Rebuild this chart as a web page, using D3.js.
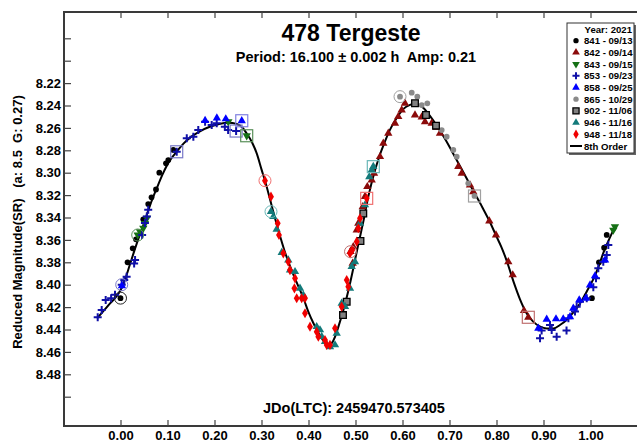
<!DOCTYPE html>
<html><head><meta charset="utf-8">
<script src="https://cdn.jsdelivr.net/npm/d3@7"></script>
<style>
body{margin:0;background:#fff}
svg{display:block}
text{font-family:"Liberation Sans",Arial,sans-serif;font-weight:bold;fill:#000;white-space:pre}
</style>
</head><body>
<svg id="c" width="637" height="442"></svg>
<script>
// ---------- data ----------
const titleText = "478 Tergeste";
const subtitleText = "Period: 16.100 \u00b1 0.002 h  Amp: 0.21";
const xTitle = "JDo(LTC): 2459470.573405";
const yTitle = "Reduced Magnitude(SR)   (a: 8.5  G: 0.27)";
const xTicks = [0.0,0.1,0.2,0.3,0.4,0.5,0.6,0.7,0.8,0.9,1.0];
const yTicks = [8.18,8.20,8.22,8.24,8.26,8.28,8.30,8.32,8.34,8.36,8.38,8.40,8.42,8.44,8.46,8.48,8.50];
const yLabelled = [8.22,8.24,8.26,8.28,8.30,8.32,8.34,8.36,8.38,8.40,8.42,8.44,8.46,8.48];
const legendYear = "Year: 2021";
const legendLabels = ["841 - 09/13","842 - 09/14","843 - 09/15","853 - 09/23","858 - 09/25","865 - 10/29","902 - 11/06","946 - 11/16","948 - 11/18"];
const fitLabel = "8th Order";

// phase, reduced magnitude
const s841 = [[0.000,8.412],[0.015,8.380],[0.026,8.3675],[0.033,8.3595],[0.0485,8.3416],[0.059,8.328],[0.066,8.322],[0.0755,8.315],[0.0826,8.300],[0.0968,8.2916],[0.1017,8.2887],[0.1123,8.2797],[1.003,8.412],[1.018,8.380],[1.029,8.367],[1.0345,8.3556]];
const s842 = [[0.4894,8.3705],[0.494,8.3809],[0.4953,8.3661],[0.5026,8.3512],[0.506,8.3452],[0.5153,8.3304],[0.5202,8.3214],[0.5251,8.3125],[0.5345,8.3065],[0.5394,8.3005],[0.5521,8.2857],[0.5591,8.2738],[0.5698,8.2648],[0.584,8.2559],[0.591,8.250],[0.5983,8.244],[0.6053,8.238],[0.6266,8.2485],[0.6409,8.2503],[0.6479,8.2545],[0.6621,8.2559],[0.6728,8.2596],[0.6798,8.2648],[0.7187,8.2946],[0.726,8.3005],[0.7436,8.311],[0.7506,8.317],[0.7847,8.3431],[0.7989,8.3556],[0.8251,8.3795],[0.8345,8.3913],[0.8585,8.4232],[0.8677,8.4291]];
const s843 = [[0.0366,8.3556],[0.0415,8.3527],[0.0485,8.3496],[0.052,8.3452],[0.0564,8.3405],[0.2294,8.2545],[0.2685,8.267],[1.0485,8.3512],[1.052,8.3482]];
const s853 = [[-0.0485,8.429],[-0.040,8.4226],[-0.0315,8.4137],[-0.020,8.412],[-0.0117,8.409],[0.0026,8.400],[0.008,8.3958],[0.013,8.393],[0.029,8.381],[0.031,8.378],[0.046,8.3556],[0.052,8.345],[0.056,8.339],[0.059,8.333],
  [0.1196,8.2813],[0.141,8.2693],[0.155,8.2679],[0.1655,8.2619],[0.180,8.2545],[0.194,8.2574],[0.2047,8.2559],[0.222,8.2589],[0.229,8.2619],[0.246,8.2628],
  [0.8926,8.4479],[0.896,8.441],[0.9138,8.436],[0.9174,8.4405],[0.928,8.4464],[0.949,8.441],[0.953,8.430],[0.967,8.424],[0.9706,8.4196],[0.9777,8.4152],[0.992,8.4121],[1.006,8.4023],[1.0117,8.3943],[1.0166,8.3854],[1.0272,8.3795],[1.0345,8.3735],[1.0379,8.3646]];
const s858 = [[0.003,8.401],[0.180,8.2535],[0.205,8.2512],[0.224,8.252],[0.258,8.2536],[0.889,8.4389],[0.9068,8.4309],[0.9266,8.4306],[0.942,8.4306],[0.9564,8.4286],[0.9634,8.4211],[0.976,8.4137],[0.990,8.4121],[0.999,8.4003],[1.0096,8.3922],[1.031,8.378]];
const s865 = [[0.5947,8.2321],[0.6196,8.2286],[0.6315,8.2321],[0.6409,8.2396],[0.6528,8.238],[0.6834,8.2619],[0.694,8.2679],[0.7081,8.2797],[0.7153,8.2857],[0.740,8.3095],[0.7532,8.3208]];
const s902 = [[0.4734,8.4271],[0.4813,8.4152],[0.5106,8.361],[0.5166,8.3364],[0.6266,8.238],[0.650,8.2485],[0.6713,8.258]];
const s946 = [[0.3202,8.3348],[0.3251,8.3393],[0.3323,8.3505],[0.343,8.3714],[0.357,8.378],[0.3606,8.3869],[0.3713,8.3884],[0.3819,8.4032],[0.3889,8.4092],[0.4174,8.4375],[0.4245,8.4404],[0.4281,8.4464],[0.4351,8.4509],[0.4457,8.4554],[0.4564,8.4538],[0.460,8.4434],[0.4706,8.4166],[0.4777,8.4196],[0.4883,8.4032],[0.4919,8.3839],[0.4989,8.3795],[0.5096,8.3452],[0.5202,8.3288],[0.5294,8.3036],[0.5345,8.2976],[0.5379,8.2946]];
const s948 = [[0.3074,8.3071],[0.3202,8.3214],[0.3345,8.3452],[0.3372,8.3556],[0.3464,8.372],[0.357,8.3795],[0.3606,8.3869],[0.3713,8.3943],[0.370,8.4032],[0.3749,8.4121],[0.3855,8.4121],[0.3926,8.4121],[0.3926,8.4255],[0.4032,8.4375],[0.4174,8.442],[0.4209,8.4464],[0.4351,8.4494],[0.4387,8.4538],[0.4457,8.4538],[0.4564,8.4389],[0.4706,8.4196],[0.4813,8.3958],[0.4847,8.4018],[0.4883,8.372],[0.4932,8.369],[0.5026,8.3616],[0.506,8.3496],[0.5096,8.3407],[0.5238,8.3229]];

// session start (circled) and end (boxed) markers: [series, phase, mag]
const circled = [["841",0.000,8.412],["853",0.0026,8.400],["843",0.0366,8.3556],["948",0.3074,8.3071],["946",0.3202,8.3348],["842",0.4894,8.3705],["865",0.5947,8.2321]];
const boxed = [["853",0.1196,8.2813],["853",0.246,8.2628],["858",0.258,8.2536],["843",0.2685,8.267],["948",0.5238,8.3229],["946",0.5379,8.2946],["865",0.7532,8.3208],["842",0.8677,8.4291]];

// 8th order Fourier fit
const fitPhase = [-0.05,-0.025,0.0,0.01,0.02,0.034,0.0485,0.063,0.077,0.09,0.105,0.12,0.134,0.15,0.169,0.19,0.21,0.23,0.247,0.26,0.2685,0.28,0.29,0.30,0.31,0.322,0.335,0.35,0.365,0.378,0.39,0.40,0.41,0.421,0.43,0.439,0.445,0.45,0.457,0.464,0.474,0.485,0.495,0.506,0.517,0.528,0.54,0.552,0.56,0.573,0.588,0.602,0.616,0.625,0.635,0.644,0.658,0.673,0.69,0.708,0.73,0.751,0.77,0.786,0.80,0.81,0.822,0.836,0.85,0.864,0.878,0.893,0.907,0.921,0.935,0.949,0.963,0.978,0.992,1.006,1.017,1.027,1.038,1.049];
const fitMag   = [8.430,8.418,8.405,8.395,8.382,8.364,8.347,8.329,8.314,8.301,8.289,8.281,8.274,8.268,8.263,8.259,8.2565,8.2555,8.2565,8.260,8.265,8.273,8.283,8.297,8.311,8.330,8.350,8.371,8.388,8.401,8.413,8.4245,8.434,8.443,8.449,8.453,8.4535,8.452,8.446,8.437,8.423,8.405,8.386,8.364,8.343,8.320,8.300,8.284,8.275,8.262,8.251,8.243,8.2395,8.2385,8.2395,8.242,8.249,8.258,8.2695,8.283,8.300,8.3165,8.331,8.344,8.357,8.366,8.379,8.397,8.413,8.4255,8.433,8.4375,8.439,8.439,8.436,8.4315,8.425,8.4166,8.406,8.395,8.384,8.372,8.361,8.351];

// ---------- drawing ----------
const svg = d3.select("#c");
const frame = {l:64, t:12, r:640, b:426};
const x = d3.scaleLinear().domain([0,1]).range([120.5,590.5]);
const y = d3.scaleLinear().domain([8.22,8.48]).range([83.1,374.3]);

const plus = {draw(ctx,size){const r=Math.sqrt(size)/2;ctx.moveTo(-r,0);ctx.lineTo(r,0);ctx.moveTo(0,-r);ctx.lineTo(0,r);}};

const styles = {
  "841":{data:s841,type:d3.symbolCircle,size:26,fill:"#000",stroke:"none",hl:"#222"},
  "842":{data:s842,type:d3.symbolTriangle,size:30,fill:"#8b0a0a",stroke:"none",hl:"#c07070"},
  "843":{data:s843,type:d3.symbolTriangle,size:30,fill:"#157015",stroke:"none",rot:180,hl:"#5a905a"},
  "853":{data:s853,type:plus,size:64,fill:"none",stroke:"#1010a8",sw:2,hl:"#7878c8"},
  "858":{data:s858,type:d3.symbolTriangle,size:30,fill:"#0000ff",stroke:"none",hl:"#8080e0"},
  "865":{data:s865,type:d3.symbolCircle,size:26,fill:"#8a8a8a",stroke:"none",hl:"#a0a0a0"},
  "902":{data:s902,type:d3.symbolSquare,size:44,fill:"#808080",stroke:"#000",sw:1.3,hl:"#555"},
  "946":{data:s946,type:d3.symbolTriangle,size:30,fill:"#137a7a",stroke:"none",hl:"#6ab8b8"},
  "948":{data:s948,type:d3.symbolDiamond,size:30,fill:"#f00000",stroke:"none",hl:"#f07070"}
};
const order = ["841","842","843","853","858","865","902","946","948"];

// frame
svg.append("rect").attr("x",frame.l).attr("y",frame.t).attr("width",frame.r-frame.l).attr("height",frame.b-frame.t)
  .attr("fill","#fff").attr("stroke","#3a3a3a").attr("stroke-width",2);

// axes
const ax = svg.append("g").attr("transform",`translate(0,${frame.b})`)
  .call(d3.axisBottom(x).tickValues(xTicks).tickSizeInner(-6).tickSizeOuter(0).tickPadding(3).tickFormat(d3.format(".2f")));
const axTop = svg.append("g").attr("transform",`translate(0,${frame.t})`)
  .call(d3.axisTop(x).tickValues(xTicks).tickSizeInner(-6).tickSizeOuter(0).tickFormat(""));
const ay = svg.append("g").attr("transform",`translate(${frame.l},0)`)
  .call(d3.axisLeft(y).tickValues(yTicks).tickSizeInner(-7).tickSizeOuter(0).tickPadding(3)
    .tickFormat(d => yLabelled.some(v=>Math.abs(v-d)<1e-6) ? d3.format(".2f")(d) : ""));
[ax,axTop,ay].forEach(g=>{
  g.select(".domain").remove();
  g.selectAll(".tick line").attr("stroke","#444").attr("stroke-width",1.2);
  g.selectAll(".tick text").attr("font-size",13).attr("font-family","Liberation Sans, Arial, sans-serif").attr("font-weight","bold").attr("fill","#000");
});
ax.selectAll(".tick text").attr("dy",0).attr("y",13.5);

// titles
svg.append("text").attr("x",351).attr("y",41).attr("text-anchor","middle").attr("font-size",23).text(titleText);
svg.append("text").attr("x",356).attr("y",62).attr("text-anchor","middle").attr("font-size",14.5).text(subtitleText);
svg.append("text").attr("x",354).attr("y",413).attr("text-anchor","middle").attr("font-size",14.5).text(xTitle);
svg.append("text").attr("transform","translate(22,222) rotate(-90)").attr("text-anchor","middle")
  .attr("font-size",13).text(yTitle);

// plot clip
svg.append("clipPath").attr("id","clip").append("rect").attr("x",frame.l+1).attr("y",frame.t+1).attr("width",frame.r-frame.l-2).attr("height",frame.b-frame.t-2);
const plot = svg.append("g").attr("clip-path","url(#clip)");

// fit curve
const fit = fitPhase.map((p,i)=>[p,fitMag[i]]);
plot.append("path").datum(fit)
  .attr("d",d3.line().x(d=>x(d[0])).y(d=>y(d[1])).curve(d3.curveMonotoneX))
  .attr("fill","none").attr("stroke","#000").attr("stroke-width",2);

// points
order.forEach(k=>{
  const s = styles[k];
  const sym = d3.symbol().type(s.type).size(s.size);
  plot.append("g").selectAll("path").data(s.data).join("path")
    .attr("d",sym)
    .attr("transform",d=>`translate(${x(d[0])},${y(d[1])})${s.rot?` rotate(${s.rot})`:""}`)
    .attr("fill",s.fill).attr("stroke",s.stroke).attr("stroke-width",s.sw||0);
});

// session markers
plot.append("g").selectAll("circle").data(circled).join("circle")
  .attr("cx",d=>x(d[1])).attr("cy",d=>y(d[2])).attr("r",6)
  .attr("fill","none").attr("stroke",d=>styles[d[0]].hl).attr("stroke-width",1);
plot.append("g").selectAll("rect").data(boxed).join("rect")
  .attr("x",d=>x(d[1])-6).attr("y",d=>y(d[2])-6).attr("width",12).attr("height",12)
  .attr("fill","none").attr("stroke",d=>styles[d[0]].hl).attr("stroke-width",1.2);

// legend
const lg = svg.append("g");
const lx = 567, ly = 23, lw = 67, lh = 130;
lg.append("rect").attr("x",lx+2).attr("y",ly+2).attr("width",lw).attr("height",lh).attr("fill","#666");
lg.append("rect").attr("x",lx).attr("y",ly).attr("width",lw).attr("height",lh).attr("fill","#fff").attr("stroke","#333").attr("stroke-width",1);
lg.append("text").attr("x",lx+lw-2).attr("y",ly+10).attr("text-anchor","end").attr("font-size",9.6).text(legendYear);
const rowY = i => ly + 17.7 + i*11.7;
order.forEach((k,i)=>{
  const s = styles[k];
  const sz = k==="853" ? 50 : s.size*0.85;
  lg.append("path").attr("d",d3.symbol().type(s.type).size(sz)())
    .attr("transform",`translate(${lx+9},${rowY(i)})${s.rot?` rotate(${s.rot})`:""}`)
    .attr("fill",s.fill).attr("stroke",s.stroke).attr("stroke-width",s.sw||0);
  lg.append("text").attr("x",lx+17).attr("y",rowY(i)+3.5).attr("font-size",9.6).text(legendLabels[i]);
});
lg.append("line").attr("x1",lx+3).attr("x2",lx+15).attr("y1",rowY(9)).attr("y2",rowY(9)).attr("stroke","#000").attr("stroke-width",2);
lg.append("text").attr("x",lx+17).attr("y",rowY(9)+3.5).attr("font-size",9.6).text(fitLabel);
</script>
</body></html>
